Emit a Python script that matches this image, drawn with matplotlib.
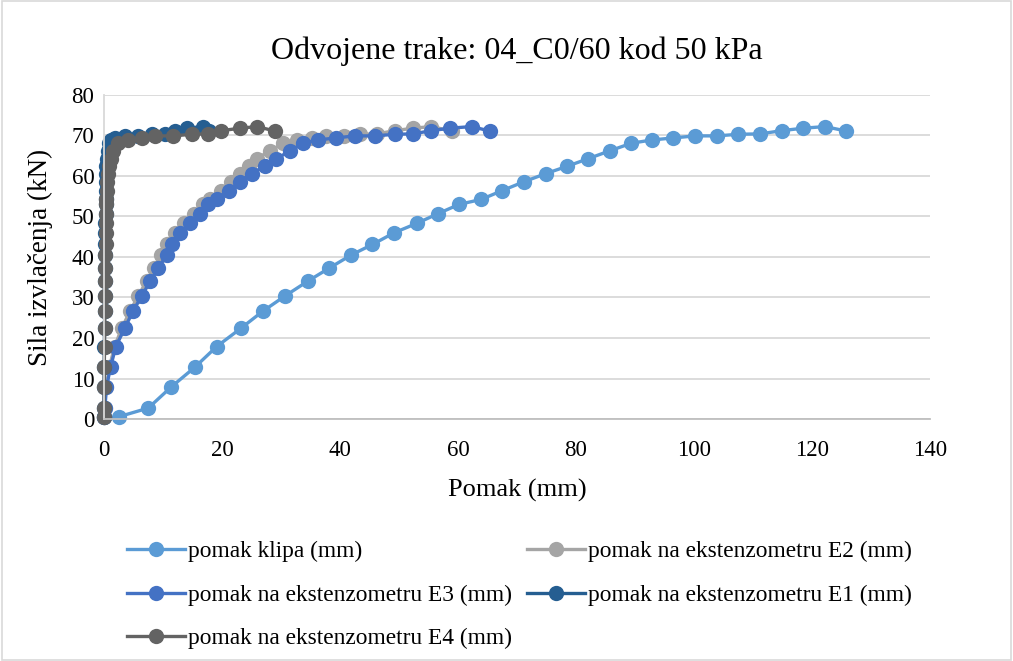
import matplotlib
matplotlib.use("Agg")
import matplotlib.pyplot as plt
from matplotlib.patches import Rectangle

plt.rcParams['font.family'] = ['Liberation Serif', 'DejaVu Serif']

# sila izvlacenja (kN) - zajednicka za sva mjerenja
sila = [0.6, 2.7, 7.8, 12.8, 17.9, 22.4, 26.6, 30.4, 34.0, 37.2,
        40.5, 43.1, 46.0, 48.3, 50.7, 53.0, 54.2, 56.4, 58.6, 60.6,
        62.4, 64.3, 66.2, 68.1, 68.9, 69.4, 69.9, 69.9, 70.3, 70.4,
        71.2, 71.8, 72.2, 71.1]

pomak_klipa = [2.6, 7.5, 11.3, 15.4, 19.1, 23.2, 26.9, 30.7, 34.5, 38.1,
               41.9, 45.5, 49.2, 53.0, 56.6, 60.2, 63.9, 67.5, 71.2, 74.9,
               78.5, 82.1, 85.7, 89.4, 92.9, 96.5, 100.2, 103.9, 107.5, 111.2,
               114.9, 118.5, 122.2, 125.8]

pomak_e2 = [0.0, 0.1, 0.35, 0.9, 1.8, 3.0, 4.4, 5.8, 7.2, 8.4,
            9.7, 10.7, 12.0, 13.6, 15.2, 16.8, 18.0, 19.8, 21.5, 23.0,
            24.5, 25.9, 28.1, 30.4, 32.7, 35.2, 37.7, 40.6, 43.4, 46.3,
            49.3, 52.4, 55.5, 58.9]

pomak_e3 = [0.05, 0.15, 0.4, 1.1, 2.0, 3.5, 4.9, 6.4, 7.8, 9.2,
            10.6, 11.5, 12.9, 14.6, 16.3, 17.7, 19.1, 21.1, 23.1, 25.0,
            27.2, 29.2, 31.6, 33.7, 36.3, 39.3, 42.5, 45.9, 49.3, 52.4,
            55.5, 58.6, 62.3, 65.4]

pomak_e1 = [0.0, 0.0, 0.02, 0.04, 0.06, 0.08, 0.1, 0.12, 0.14, 0.16,
            0.18, 0.2, 0.22, 0.24, 0.26, 0.28, 0.3, 0.32, 0.34, 0.35,
            0.4, 0.5, 0.65, 0.85, 1.2, 1.9, 3.6, 5.8, 8.1, 10.3,
            12.0, 14.0, 16.8, 17.8]

pomak_e4 = [0.0, 0.0, 0.02, 0.05, 0.08, 0.1, 0.12, 0.15, 0.18, 0.2,
            0.22, 0.25, 0.28, 0.3, 0.33, 0.36, 0.4, 0.43, 0.5, 0.6,
            0.8, 1.1, 1.6, 2.4, 4.1, 6.4, 8.6, 11.7, 14.9, 17.7,
            19.9, 23.1, 25.9, 29.0]

serije = [
    (pomak_klipa, 'pomak klipa (mm)', '#5B9BD5'),
    (pomak_e2, 'pomak na ekstenzometru E2 (mm)', '#A5A5A5'),
    (pomak_e3, 'pomak na ekstenzometru E3 (mm)', '#4472C4'),
    (pomak_e1, 'pomak na ekstenzometru E1 (mm)', '#255E91'),
    (pomak_e4, 'pomak na ekstenzometru E4 (mm)', '#636363'),
]

fig = plt.figure(figsize=(10.13, 6.61), dpi=100)
ax = fig.add_axes([0.1027, 0.3661, 0.8154, 0.4902])

linije = {}
for x, naziv, boja in serije:
    l, = ax.plot(x, sila, color=boja, lw=2.4, marker='o', markersize=11,
                 markeredgewidth=0, label=naziv, clip_on=False)
    linije[naziv] = l

ax.set_xlim(0, 140)
ax.set_ylim(0, 80)
ax.set_xticks(range(0, 141, 20))
ax.set_yticks(range(0, 81, 10))
ax.tick_params(axis='both', length=0, labelsize=16.5)
ax.tick_params(axis='x', pad=15)
ax.tick_params(axis='y', pad=7)
ax.grid(axis='y', color='#D9D9D9', lw=1.3)
ax.set_axisbelow(True)
for s in ['top', 'right']:
    ax.spines[s].set_visible(False)
ax.spines['left'].set_color('#D9D9D9')
ax.spines['left'].set_linewidth(1.3)
ax.spines['bottom'].set_color('#BFBFBF')
ax.spines['bottom'].set_linewidth(1.3)

ax.set_title('Odvojene trake: 04_C0/60 kod 50 kPa', fontsize=23, pad=26)
ax.set_xlabel('Pomak (mm)', fontsize=19, labelpad=13)
ax.set_ylabel('Sila izvlačenja (kN)', fontsize=19.5, labelpad=13)

# redoslijed u legendi po redovima (ncol=2 puni po stupcima)
redoslijed = ['pomak klipa (mm)', 'pomak na ekstenzometru E3 (mm)',
              'pomak na ekstenzometru E4 (mm)', 'pomak na ekstenzometru E2 (mm)',
              'pomak na ekstenzometru E1 (mm)']
fig.legend([linije[n] for n in redoslijed], redoslijed, ncol=2,
           loc='upper left', bbox_to_anchor=(0.125, 0.182), frameon=False,
           fontsize=16.8, handlelength=2.5, handletextpad=0.12,
           columnspacing=0.65, labelspacing=0.96, borderaxespad=0,
           borderpad=0)

fig.patches.append(Rectangle((0.002, 0.002), 0.996, 0.996, transform=fig.transFigure,
                             fill=False, edgecolor='#D9D9D9', lw=1.2))

fig.savefig('out.png', dpi=100)
